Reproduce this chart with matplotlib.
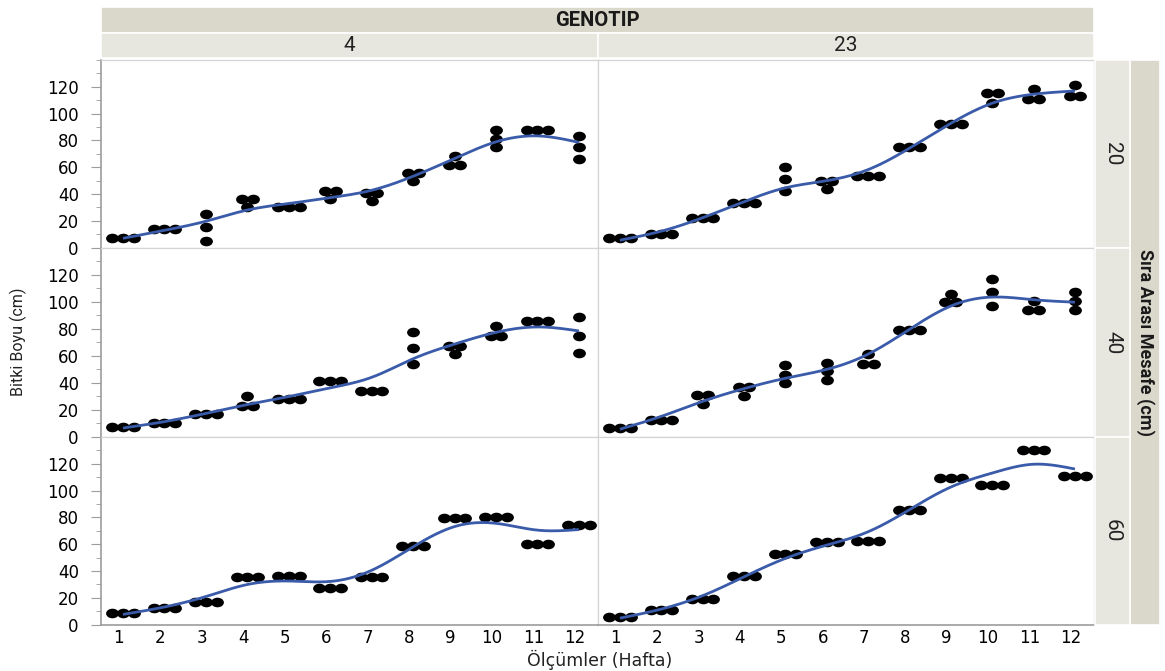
import matplotlib
matplotlib.use("Agg")
import matplotlib.pyplot as plt
import numpy as np
from matplotlib.patches import Rectangle
from matplotlib.path import Path
from matplotlib.transforms import Affine2D
from matplotlib.ticker import MultipleLocator

# ---------------------------------------------------------------------------
# Data: plant height (cm), three plants per weekly measurement
# ---------------------------------------------------------------------------

weeks = list(range(1, 13))
genotypes = ["4", "23"]
row_spacings = ["20", "40", "60"]

g4_s20 = [[7, 7, 7], [14, 14, 14], [25, 15, 5], [36, 36, 30], [30, 30, 30], [42, 42, 36],
          [41, 41, 35], [56, 56, 50], [68, 62, 62], [88, 81, 75], [88, 88, 88], [83, 75, 66]]
g23_s20 = [[7, 7, 7], [10, 10, 10], [22, 22, 22], [33, 33, 33], [60, 51, 42], [50, 50, 44],
           [53.5, 53.5, 53.5], [75, 75, 75], [92, 92, 92], [115, 115, 108], [118, 111, 111],
           [121, 113, 113]]
g4_s40 = [[7, 7, 7], [10, 10, 10], [17, 17, 17], [30, 23, 23], [28, 28, 28], [41, 41, 41],
          [34, 34, 34], [78, 66, 54], [67, 67, 61], [82, 75, 75], [86, 86, 86], [89, 75, 62]]
g23_s40 = [[6.5, 6.5, 6.5], [12, 12, 12], [31, 31, 24], [37, 37, 30], [53, 46, 40], [55, 49, 42],
           [61, 54, 54], [79, 79, 79], [106, 100, 100], [117, 107, 97], [101, 94, 94],
           [107, 101, 94]]
g4_s60 = [[8.5] * 3, [12.5] * 3, [16.5] * 3, [35.5] * 3, [36.5] * 3, [27] * 3,
          [35.5] * 3, [58.5] * 3, [79.5] * 3, [80.5] * 3, [60] * 3, [74.5] * 3]
g23_s60 = [[6] * 3, [11] * 3, [19] * 3, [36] * 3, [52.5] * 3, [61.5] * 3,
           [62.5] * 3, [85.5] * 3, [109.5] * 3, [104.5] * 3, [130] * 3, [111] * 3]

panels = [[g4_s20, g23_s20],
          [g4_s40, g23_s40],
          [g4_s60, g23_s60]]

# ---------------------------------------------------------------------------
# Helpers
# ---------------------------------------------------------------------------

W, H = 1165, 671
STRIP_DARK = "#DAD8CB"
STRIP_LIGHT = "#E8E7DF"
FRAME = "#D4D4D4"
AXIS_GRAY = "#9C9C9C"
CURVE = "#3A5BA9"
NARROW = ["Roboto", "DejaVu Sans"]


def frac(x0, y0, x1, y1):
    """Pixel box (top-left origin) -> figure fraction rect."""
    return [x0 / W, 1 - y1 / H, (x1 - x0) / W, (y1 - y0) / H]


def strip(fig, x0, y0, x1, y1, color):
    l, b, w, h = frac(x0, y0, x1, y1)
    fig.add_artist(Rectangle((l, b), w, h, transform=fig.transFigure,
                             facecolor=color, edgecolor="white", linewidth=1.2))
    return l + w / 2, b + h / 2


def dodge(week, values, center=0.1, step=0.26):
    """Spread tied values sideways, stack distinct ones at the centre."""
    xs, ys = [], []
    for v in dict.fromkeys(values):
        n = values.count(v)
        offs = (np.arange(n) - (n - 1) / 2) * step
        xs.extend(week + center + offs)
        ys.extend([v] * n)
    return xs, ys


def smooth_curve(x, y, lam=1.0, step=0.05):
    """Penalised cubic smoother evaluated on a fine grid."""
    x = np.asarray(x, float)
    y = np.asarray(y, float)
    grid = np.arange(x.min(), x.max() + step / 2, step)
    n = len(grid)
    idx = np.round((x - grid[0]) / step).astype(int)
    w = np.zeros(n)
    wy = np.zeros(n)
    np.add.at(w, idx, 1.0)
    np.add.at(wy, idx, y)
    D = np.diff(np.eye(n), 2, axis=0)
    A = np.diag(w) + lam / step ** 3 * (D.T @ D)
    return grid, np.linalg.solve(A, wy)


dot = Path.unit_circle().transformed(Affine2D().scale(1, 0.72))

# ---------------------------------------------------------------------------
# Figure
# ---------------------------------------------------------------------------

fig = plt.figure(figsize=(W / 100, H / 100), dpi=100)
fig.patch.set_facecolor("white")

col_px = [(101, 598), (598, 1094)]
row_px = [(60, 248), (248, 437), (437, 625)]

for r, (y0, y1) in enumerate(row_px):
    for c, (x0, x1) in enumerate(col_px):
        ax = fig.add_axes(frac(x0, y0, x1, y1))
        data = panels[r][c]

        px, py, fx, fy = [], [], [], []
        for wk, vals in zip(weeks, data):
            xs, ys = dodge(wk, vals)
            px += xs
            py += ys
            fx += [wk] * len(vals)
            fy += vals
        ax.plot(px, py, linestyle="none", marker=dot, ms=8.2, color="black", zorder=2)

        gx, gy = smooth_curve(fx, fy)
        ax.plot(gx + 0.1, gy, color=CURVE, lw=2.0, zorder=3, solid_capstyle="butt")

        ax.set_xlim(0.57, 12.56)
        ax.set_ylim(-0.3, 140)
        for s in ax.spines.values():
            s.set_color(FRAME)
            s.set_linewidth(0.9)

        ax.set_xticks(weeks)
        ax.tick_params(axis="x", length=0, pad=3, labelsize=12)
        if r < 2:
            ax.tick_params(axis="x", labelbottom=False)
        else:
            ax.spines["bottom"].set_color(AXIS_GRAY)
            ax.spines["bottom"].set_linewidth(1.2)

        ax.yaxis.set_major_locator(MultipleLocator(20))
        ax.yaxis.set_minor_locator(MultipleLocator(10))
        ax.set_yticks(np.arange(0, 121, 20))
        if c == 0:
            ax.spines["left"].set_color(AXIS_GRAY)
            ax.spines["left"].set_linewidth(1.2)
            ax.tick_params(axis="y", which="major", length=7, color=AXIS_GRAY,
                           labelsize=12, pad=9)
            ax.tick_params(axis="y", which="minor", length=3.5, color=AXIS_GRAY)
        else:
            ax.tick_params(axis="y", which="both", length=0, labelleft=False)

# top strips
cx, cy = strip(fig, 101, 7, 1094, 33, STRIP_DARK)
fig.text(cx, cy, "GENOTIP", ha="center", va="center", fontsize=14.5,
         fontweight="bold", family=NARROW, color="#1a1a1a")
for g, (x0, x1) in zip(genotypes, col_px):
    cx, cy = strip(fig, x0, 33, x1, 58, STRIP_LIGHT)
    fig.text(cx, cy, g, ha="center", va="center", fontsize=15,
             family=NARROW, color="#222222")

# right strips
cx, cy = strip(fig, 1130, 60, 1160, 625, STRIP_DARK)
fig.text(cx, cy, "Sıra Arası Mesafe (cm)", ha="center", va="center",
         rotation=-90, fontsize=13, fontweight="bold", family=NARROW, color="#1a1a1a")
for s, (y0, y1) in zip(row_spacings, row_px):
    cx, cy = strip(fig, 1095, y0, 1130, y1, STRIP_LIGHT)
    fig.text(cx, cy, s, ha="center", va="center", rotation=-90,
             fontsize=15, family=NARROW, color="#222222")

# axis titles
fig.text(600 / W, 1 - 670 / H, "Ölçümler (Hafta)", ha="center", va="bottom",
         fontsize=12.5, color="#222222")
fig.text(18 / W, 1 - 342 / H, "Bitki Boyu (cm)", ha="center", va="center",
         rotation=90, fontsize=11.5, family=NARROW, color="#222222")

fig.savefig("out.png", dpi=100)
